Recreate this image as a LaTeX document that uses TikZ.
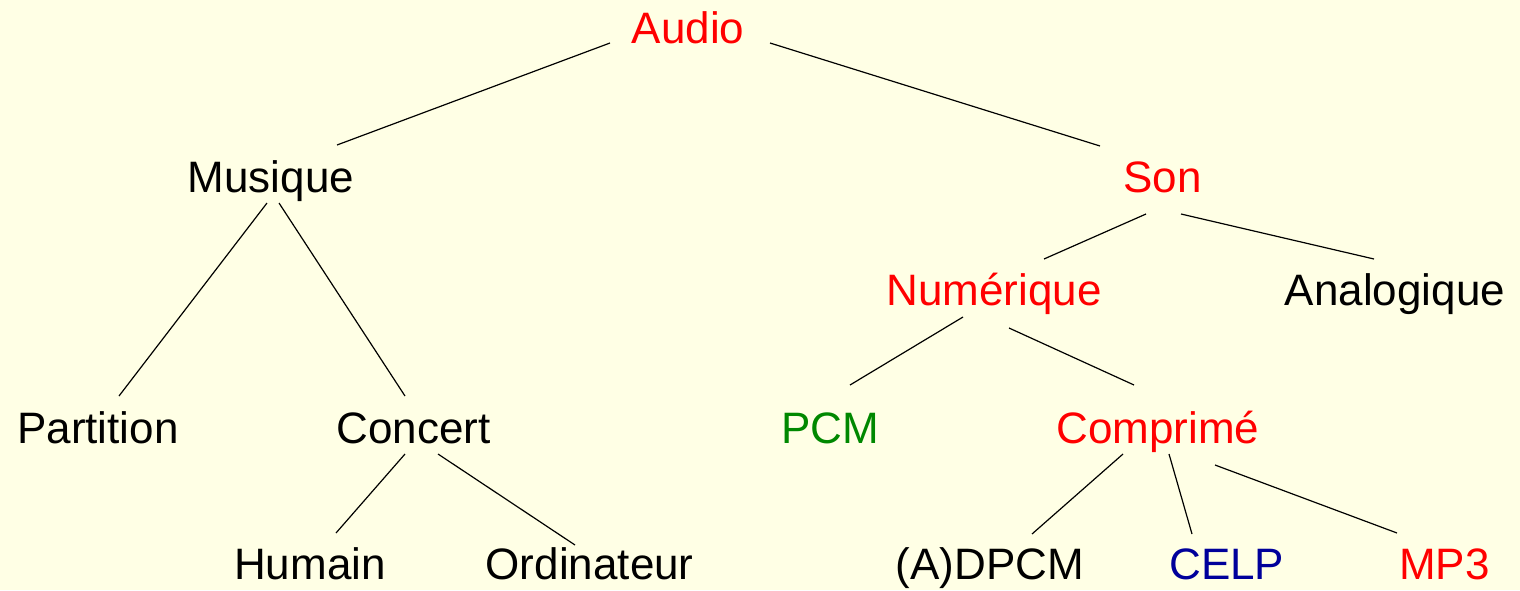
\documentclass[tikz,border=0pt]{standalone}
\usepackage{fontspec}
\setmainfont{Liberation Sans}
\definecolor{bgyellow}{RGB}{255,255,229}
\definecolor{tred}{RGB}{255,0,0}
\definecolor{tgreen}{RGB}{0,136,0}
\definecolor{tblue}{RGB}{0,0,155}
\begin{document}
\begin{tikzpicture}[x=1pt,y=-1pt,
  lbl/.style={anchor=base,inner sep=0pt,font=\fontsize{44}{50}\selectfont},
  conn/.style={draw=black,line width=1.2pt}]
\fill[bgyellow] (0,0) rectangle (1520,590);
\useasboundingbox (0,0) rectangle (1520,590);
% nodes
\node[lbl,text=tred] (audio) at (688,43) {Audio};
\node[lbl] (musique) at (271,192) {Musique};
\node[lbl,text=tred] (son) at (1162.5,192) {Son};
\node[lbl,text=tred] (numerique) at (994,305) {Numérique};
\node[lbl] (analogique) at (1395,305) {Analogique};
\node[lbl] (partition) at (98,443) {Partition};
\node[lbl] (concert) at (413.5,443) {Concert};
\node[lbl,text=tgreen] (pcm) at (830.5,443) {PCM};
\node[lbl,text=tred] (comprime) at (1158,443) {Comprimé};
\node[lbl] (humain) at (310,579) {Humain};
\node[lbl] (ordinateur) at (589.7,579) {Ordinateur};
\node[lbl] (adpcm) at (989.7,579) {(A)DPCM};
\node[lbl,text=tblue] (celp) at (1226.7,579) {CELP};
\node[lbl,text=tred] (mp3) at (1444.3,579) {MP3};
% connectors
\draw[conn] ([shift={(-78,0)}]audio.base) -- ([shift={(66,-47)}]musique.base);
\draw[conn] ([shift={(82,0)}]audio.base) -- ([shift={(-62.5,-46)}]son.base);
\draw[conn] ([shift={(-4,11)}]musique.base) -- ([shift={(21,-47)}]partition.base);
\draw[conn] ([shift={(8,11)}]musique.base) -- ([shift={(-8.5,-47)}]concert.base);
\draw[conn] ([shift={(-16.5,22)}]son.base) -- ([shift={(50,-46)}]numerique.base);
\draw[conn] ([shift={(18.5,22)}]son.base) -- ([shift={(-21,-46)}]analogique.base);
\draw[conn] ([shift={(-31,12)}]numerique.base) -- ([shift={(19.5,-58)}]pcm.base);
\draw[conn] ([shift={(15,23)}]numerique.base) -- ([shift={(-24,-58)}]comprime.base);
\draw[conn] ([shift={(-8.5,11)}]concert.base) -- ([shift={(26,-46)}]humain.base);
\draw[conn] ([shift={(24.5,11)}]concert.base) -- ([shift={(-14.7,-34)}]ordinateur.base);
\draw[conn] ([shift={(-35,11)}]comprime.base) -- ([shift={(42.3,-45)}]adpcm.base);
\draw[conn] ([shift={(11,11)}]comprime.base) -- ([shift={(-34.7,-45)}]celp.base);
\draw[conn] ([shift={(57,22)}]comprime.base) -- ([shift={(-47.3,-46)}]mp3.base);
\end{tikzpicture}
\end{document}
